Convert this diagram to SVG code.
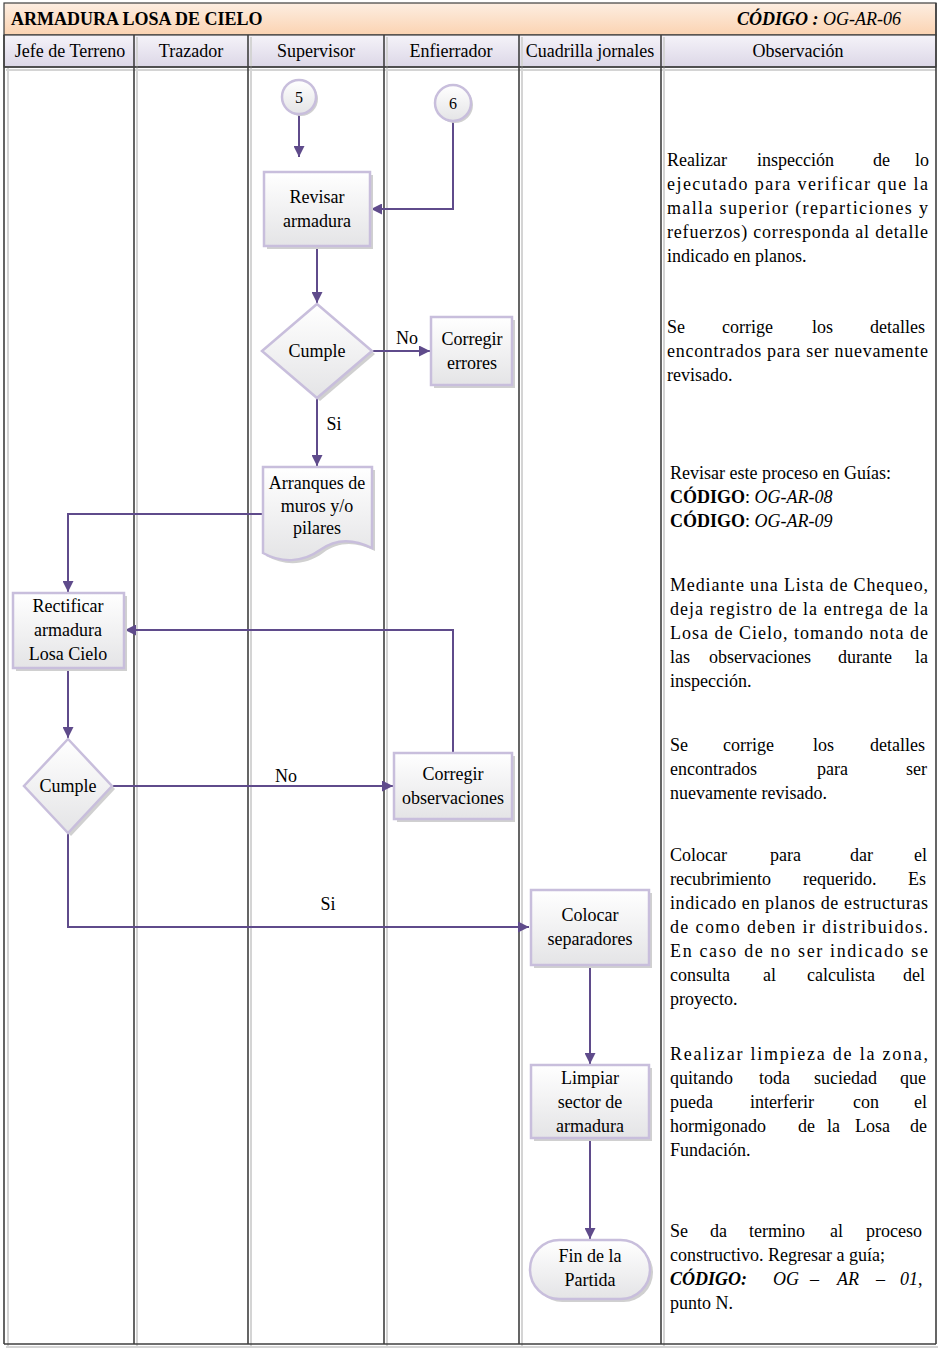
<svg xmlns="http://www.w3.org/2000/svg" width="944" height="1349" viewBox="0 0 944 1349">
<style>
text{font-family:"Liberation Serif","Times New Roman",serif;fill:#000}
.h{font-size:18px;text-anchor:middle}
.n{font-size:18px;text-anchor:middle}
.o{font-size:18px}
.lane{stroke:#3f3f3f;stroke-width:1.6;fill:none}
.lsh{stroke:#d4d4d4;stroke-width:2;fill:none}
.node{fill:url(#ng);stroke:#c8bedc;stroke-width:2.5}
.sh{fill:#d0d0d0}
.c{fill:none;stroke:#5f4b8b;stroke-width:2;marker-end:url(#ah)}
.b{font-weight:bold}
.i{font-style:italic}
</style>
<defs>
<linearGradient id="tg" x1="0" y1="0" x2="0" y2="1"><stop offset="0" stop-color="#fdeee2"/><stop offset="1" stop-color="#fbd3b2"/></linearGradient>
<linearGradient id="hg" x1="0" y1="0" x2="0" y2="1"><stop offset="0" stop-color="#f5f3f9"/><stop offset="1" stop-color="#dcd7e7"/></linearGradient>
<linearGradient id="ng" x1="0" y1="0" x2="0" y2="1"><stop offset="0" stop-color="#ffffff"/><stop offset="1" stop-color="#e4e4e6"/></linearGradient>
<marker id="ah" viewBox="0 0 10 10" refX="10" refY="5" markerWidth="11" markerHeight="11" markerUnits="userSpaceOnUse" orient="auto"><path d="M0,0 L10,5 L0,10 z" fill="#5f4b8b"/></marker>
</defs>
<rect x="0" y="0" width="944" height="1349" fill="#ffffff"/>
<g id="frame">
<rect x="4" y="3" width="932" height="32" fill="url(#tg)" stroke="#3f3f3f" stroke-width="1.2"/>
<rect x="4" y="35" width="932" height="32" fill="url(#hg)" stroke="#3f3f3f" stroke-width="1.2"/>
<text x="11" y="25" style="font-size:18px" class="b">ARMADURA LOSA DE CIELO</text>
<text x="901" y="25" style="font-size:18px;text-anchor:end"><tspan class="b i">CÓDIGO :</tspan><tspan class="i"> OG-AR-06</tspan></text>
<g>
<line class="lsh" x1="8" y1="68" x2="8" y2="1347"/>
<line class="lsh" x1="137" y1="37" x2="137" y2="1347"/>
<line class="lsh" x1="251" y1="37" x2="251" y2="1347"/>
<line class="lsh" x1="387" y1="37" x2="387" y2="1347"/>
<line class="lsh" x1="522" y1="37" x2="522" y2="1347"/>
<line class="lsh" x1="664" y1="37" x2="664" y2="1347"/>
<line class="lsh" x1="6" y1="1347" x2="938" y2="1347"/>
<line class="lsh" x1="6" y1="70" x2="936" y2="70"/>
</g>
<line class="lane" x1="4" y1="35" x2="4" y2="1344"/>
<line class="lane" x1="134" y1="35" x2="134" y2="1344"/>
<line class="lane" x1="248" y1="35" x2="248" y2="1344"/>
<line class="lane" x1="384" y1="35" x2="384" y2="1344"/>
<line class="lane" x1="519" y1="35" x2="519" y2="1344"/>
<line class="lane" x1="661" y1="35" x2="661" y2="1344"/>
<line class="lane" x1="936" y1="3" x2="936" y2="1344"/>
<line class="lane" x1="4" y1="1344" x2="936" y2="1344"/>
<line class="lane" x1="4" y1="67" x2="936" y2="67"/>
<text class="h" x="70" y="57">Jefe de Terreno</text>
<text class="h" x="191" y="57">Trazador</text>
<text class="h" x="316" y="57">Supervisor</text>
<text class="h" x="451" y="57">Enfierrador</text>
<text class="h" x="590" y="57">Cuadrilla jornales</text>
<text class="h" x="798" y="57">Observación</text>
</g>
<g id="connectors">
<path class="c" d="M299,115 V157"/>
<path class="c" d="M453,121 V209 H371"/>
<path class="c" d="M317,246 V303"/>
<path class="c" d="M373,351 H430"/>
<path class="c" d="M317,398 V466"/>
<path class="c" d="M263,514 H68 V592"/>
<path class="c" d="M453,753 V630 H125"/>
<path class="c" d="M68,668 V738"/>
<path class="c" d="M112,786 H393"/>
<path class="c" d="M68,833 V927 H529"/>
<path class="c" d="M590,965 V1064"/>
<path class="c" d="M590,1138 V1239"/>
<text x="407" y="344" class="n">No</text>
<text x="334" y="430" class="n">Si</text>
<text x="286" y="782" class="n">No</text>
<text x="328" y="910" class="n">Si</text>
</g>
<g id="c5"><circle cx="301" cy="99" r="17" class="sh"/><circle cx="299" cy="97" r="17" class="node"/><text x="299" y="103" class="n" style="font-size:16px">5</text></g>
<g id="c6"><circle cx="455" cy="105" r="18" class="sh"/><circle cx="453" cy="103" r="18" class="node"/><text x="453" y="109" class="n" style="font-size:16px">6</text></g>
<g id="revisar"><rect x="267" y="175" width="106" height="74" class="sh"/><rect x="264" y="172" width="106" height="74" class="node"/><text class="n" x="317" y="203">Revisar</text><text class="n" x="317" y="227">armadura</text></g>
<g id="cumple1"><path d="M320,307 L375,354 L320,401 L265,354 Z" class="sh"/><path d="M317,304 L372,351 L317,398 L262,351 Z" class="node"/><text class="n" x="317" y="357">Cumple</text></g>
<g id="corregir1"><rect x="434" y="320" width="81" height="68" class="sh"/><rect x="431" y="317" width="81" height="68" class="node"/><text class="n" x="472" y="345">Corregir</text><text class="n" x="472" y="369">errores</text></g>
<g id="arranques"><path d="M266,470 H375 V551 C355,541 338,542 323,553 C305,566 284,566 266,556 Z" class="sh"/><path d="M263,467 H372 V548 C352,538 335,539 320,550 C302,563 281,563 263,553 Z" class="node"/><text class="n" x="317" y="489">Arranques de</text><text class="n" x="317" y="512">muros y/o</text><text class="n" x="317" y="534">pilares</text></g>
<g id="rectificar"><rect x="16" y="596" width="111" height="75" class="sh"/><rect x="13" y="593" width="111" height="75" class="node"/><text class="n" x="68" y="612">Rectificar</text><text class="n" x="68" y="636">armadura</text><text class="n" x="68" y="660">Losa Cielo</text></g>
<g id="cumple2"><path d="M71,742 L115,789 L71,836 L27,789 Z" class="sh"/><path d="M68,739 L112,786 L68,833 L24,786 Z" class="node"/><text class="n" x="68" y="792">Cumple</text></g>
<g id="corregir2"><rect x="397" y="756" width="118" height="66" class="sh"/><rect x="394" y="753" width="118" height="66" class="node"/><text class="n" x="453" y="780">Corregir</text><text class="n" x="453" y="804">observaciones</text></g>
<g id="colocar"><rect x="534" y="893" width="118" height="75" class="sh"/><rect x="531" y="890" width="118" height="75" class="node"/><text class="n" x="590" y="921">Colocar</text><text class="n" x="590" y="945">separadores</text></g>
<g id="limpiar"><rect x="534" y="1068" width="118" height="73" class="sh"/><rect x="531" y="1065" width="118" height="73" class="node"/><text class="n" x="590" y="1084">Limpiar</text><text class="n" x="590" y="1108">sector de</text><text class="n" x="590" y="1132">armadura</text></g>
<g id="fin"><rect x="533" y="1243" width="120" height="59" rx="29.5" class="sh"/><rect x="530" y="1240" width="120" height="59" rx="29.5" class="node"/><text class="n" x="590" y="1262">Fin de la</text><text class="n" x="590" y="1286">Partida</text></g>
<g id="observaciones" class="o">
<text class="o" y="166"><tspan x="667">Realizar</tspan><tspan x="757">inspección</tspan><tspan x="873">de</tspan><tspan x="915">lo</tspan></text>
<text class="o" x="667" y="190" textLength="261" lengthAdjust="spacing">ejecutado para verificar que la</text>
<text class="o" x="667" y="214" textLength="261" lengthAdjust="spacing">malla superior (reparticiones y</text>
<text class="o" x="667" y="238" textLength="261" lengthAdjust="spacing">refuerzos) corresponda al detalle</text>
<text class="o" x="667" y="262">indicado en planos.</text>

<text class="o" y="333"><tspan x="667">Se</tspan><tspan x="722">corrige</tspan><tspan x="812">los</tspan><tspan x="870">detalles</tspan></text>
<text class="o" x="667" y="357" textLength="261" lengthAdjust="spacing">encontrados para ser nuevamente</text>
<text class="o" x="667" y="381">revisado.</text>

<text class="o" x="670" y="479">Revisar este proceso en Guías:</text>
<text class="o" x="670" y="503"><tspan class="b">CÓDIGO</tspan>: <tspan class="i">OG-AR-08</tspan></text>
<text class="o" x="670" y="527"><tspan class="b">CÓDIGO</tspan>: <tspan class="i">OG-AR-09</tspan></text>

<text class="o" x="670" y="591" textLength="258" lengthAdjust="spacing">Mediante una Lista de Chequeo,</text>
<text class="o" x="670" y="615" textLength="258" lengthAdjust="spacing">deja registro de la entrega de la</text>
<text class="o" x="670" y="639" textLength="258" lengthAdjust="spacing">Losa de Cielo, tomando nota de</text>
<text class="o" y="663"><tspan x="670">las</tspan><tspan x="709">observaciones</tspan><tspan x="838">durante</tspan><tspan x="915">la</tspan></text>
<text class="o" x="670" y="687">inspección.</text>

<text class="o" y="751"><tspan x="670">Se</tspan><tspan x="723">corrige</tspan><tspan x="813">los</tspan><tspan x="870">detalles</tspan></text>
<text class="o" y="775"><tspan x="670">encontrados</tspan><tspan x="817">para</tspan><tspan x="906">ser</tspan></text>
<text class="o" x="670" y="799">nuevamente revisado.</text>

<text class="o" y="861"><tspan x="670">Colocar</tspan><tspan x="770">para</tspan><tspan x="850">dar</tspan><tspan x="914">el</tspan></text>
<text class="o" y="885"><tspan x="670">recubrimiento</tspan><tspan x="803">requerido.</tspan><tspan x="908">Es</tspan></text>
<text class="o" x="670" y="909" textLength="258" lengthAdjust="spacing">indicado en planos de estructuras</text>
<text class="o" x="670" y="933" textLength="258" lengthAdjust="spacing">de como deben ir distribuidos.</text>
<text class="o" x="670" y="957" textLength="258" lengthAdjust="spacing">En caso de no ser indicado se</text>
<text class="o" y="981"><tspan x="670">consulta</tspan><tspan x="763">al</tspan><tspan x="807">calculista</tspan><tspan x="903">del</tspan></text>
<text class="o" x="670" y="1005">proyecto.</text>

<text class="o" x="670" y="1060" textLength="258" lengthAdjust="spacing">Realizar limpieza de la zona,</text>
<text class="o" y="1084"><tspan x="670">quitando</tspan><tspan x="759">toda</tspan><tspan x="814">suciedad</tspan><tspan x="900">que</tspan></text>
<text class="o" y="1108"><tspan x="670">pueda</tspan><tspan x="750">interferir</tspan><tspan x="853">con</tspan><tspan x="914">el</tspan></text>
<text class="o" y="1132"><tspan x="670">hormigonado</tspan><tspan x="798">de</tspan><tspan x="827">la</tspan><tspan x="855">Losa</tspan><tspan x="910">de</tspan></text>
<text class="o" x="670" y="1156">Fundación.</text>

<text class="o" y="1237"><tspan x="670">Se</tspan><tspan x="710">da</tspan><tspan x="749">termino</tspan><tspan x="830">al</tspan><tspan x="866">proceso</tspan></text>
<text class="o" x="670" y="1261">constructivo. Regresar a guía;</text>
<text class="o" y="1285"><tspan x="670" class="b i">CÓDIGO:</tspan><tspan x="773" class="i">OG</tspan><tspan x="810">–</tspan><tspan x="837" class="i">AR</tspan><tspan x="876">–</tspan><tspan x="900" class="i">01</tspan><tspan>,</tspan></text>
<text class="o" x="670" y="1309">punto N.</text>
</g>
</svg>
